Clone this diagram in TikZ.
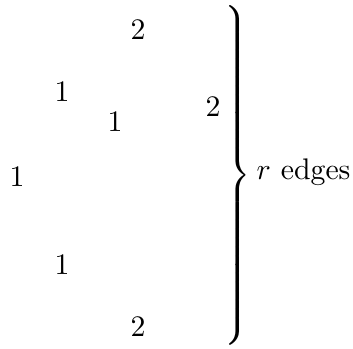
\documentclass[tikz,border=0pt]{standalone}
\begin{document}
\begin{tikzpicture}[x=0.3356pt,y=-0.3356pt,
  num/.style={inner sep=0pt,font=\normalsize}]
\useasboundingbox (0,0) rectangle (353,348);
\node[num] (t2) at (138,30) {2};
\node[num] (a1) at (62,92) {1};
\node[num] (b1) at (115,122) {1};
\node[num] (r2) at (213,107) {2};
\node[num] (l1) at (17,177) {1};
\node[num] (c1) at (62,265) {1};
\node[num] (d2) at (138,327) {2};
\node[inner sep=0pt,anchor=base west] (brace) at (220,183)
  {$\left.\vrule height 61.5pt depth 56.5pt width 0pt\right\}$};
\node[inner sep=0pt,anchor=base west] (lbl) at (256,180) {$r$ edges};
\end{tikzpicture}
\end{document}
